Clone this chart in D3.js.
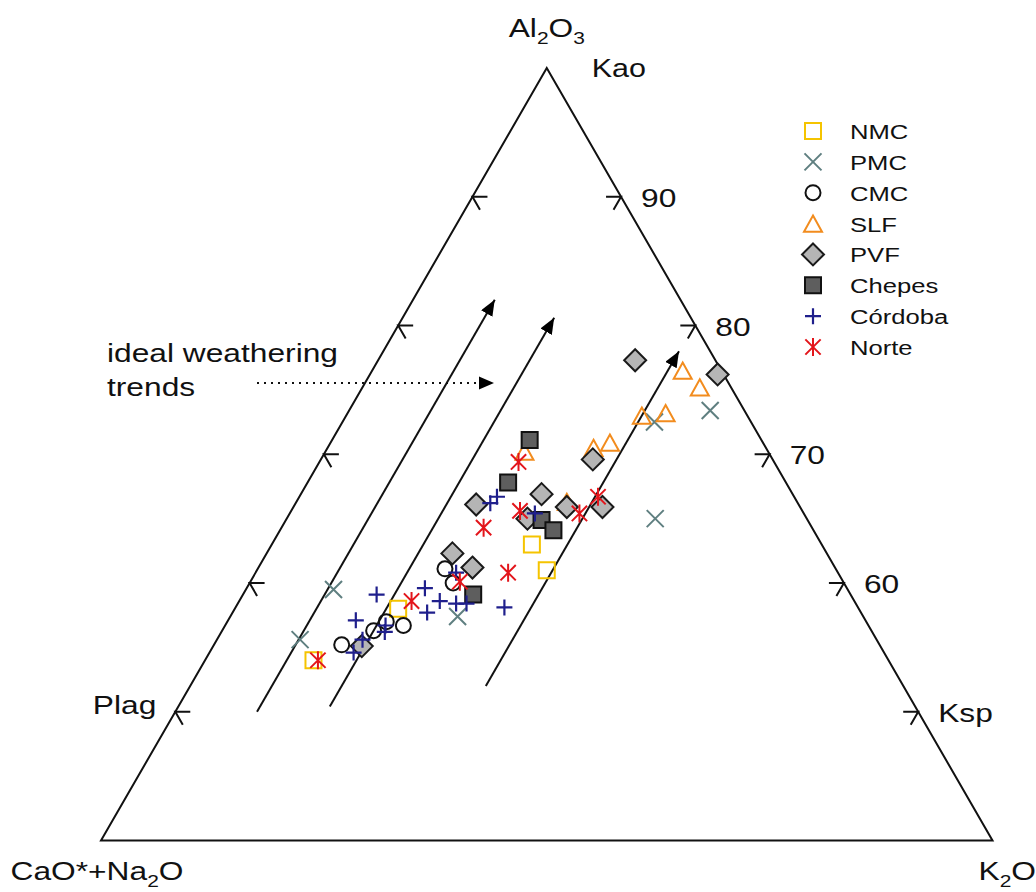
<!DOCTYPE html>
<html>
<head>
<meta charset="utf-8">
<script src="https://cdn.jsdelivr.net/npm/d3@7"></script>
<style>
  html, body { margin: 0; padding: 0; background: #ffffff; }
  svg { display: block; font-family: "Liberation Sans", Arial, sans-serif; }
</style>
</head>
<body>
<svg id="chart" width="1036" height="892"></svg>
<script>
// Molar proportions in %, each row: [Al2O3, CaO*+Na2O, K2O]
const nmc = [[54.0, 38.7, 7.3], [58.0, 31.0, 11.0], [63.0, 19.5, 17.5], [61.0, 19.5, 19.5]];
const pmc = [[55.6, 38.8, 5.6], [59.5, 34.6, 5.9], [57.4, 27.3, 15.3], [65.0, 10.2, 24.8],
             [72.5, 6.5, 21.0], [73.4, 2.3, 24.3]];
const cmc = [[55.2, 36.2, 8.6], [56.3, 33.5, 10.2], [57.0, 32.3, 10.7], [56.7, 31.3, 12.0],
             [61.1, 26.3, 12.6], [60.0, 26.3, 13.7]];
const slf = [[76.5, 2.6, 20.9], [75.2, 2.1, 22.7], [73.0, 7.1, 19.9], [73.2, 5.4, 21.4],
             [70.5, 11.6, 17.9], [70.9, 10.3, 18.8], [66.3, 15.5, 18.2], [70.2, 16.4, 13.4]];
const pvf = [[77.3, 5.4, 17.3], [76.2, 0.4, 23.4], [69.6, 12.1, 18.3], [66.9, 16.9, 16.2],
             [66.1, 21.7, 12.2], [65.9, 15.7, 18.4], [65.9, 13.3, 20.8], [65.0, 18.8, 16.2],
             [62.3, 25.2, 12.5], [61.2, 24.4, 14.4], [55.1, 34.9, 10.0]];
const chepes = [[71.1, 15.6, 13.3], [67.8, 18.7, 13.5], [64.9, 17.9, 17.2], [64.1, 17.5, 18.4],
                [59.1, 25.4, 15.5]];
const cordoba = [[59.1, 31.9, 9.0], [59.6, 28.4, 12.0], [58.6, 27.9, 13.5], [57.7, 29.2, 13.1],
                 [57.1, 34.3, 8.6], [56.7, 32.5, 10.8], [56.2, 32.8, 11.0], [55.6, 34.6, 9.8],
                 [54.6, 35.7, 9.7], [58.4, 26.9, 14.7], [58.4, 26.2, 15.4], [60.8, 25.7, 13.5],
                 [58.1, 23.8, 18.1], [66.2, 20.7, 13.1], [66.7, 20.0, 13.3], [65.4, 18.1, 16.5]];
const norte = [[54.0, 38.4, 7.6], [58.6, 29.8, 11.6], [60.1, 25.8, 14.1], [64.3, 22.1, 13.6],
               [60.8, 22.2, 17.0], [69.4, 17.2, 13.4], [65.6, 19.0, 15.4], [65.4, 15.1, 19.5],
               [66.7, 13.2, 20.1]];

const seriesNames = ["NMC", "PMC", "CMC", "SLF", "PVF", "Chepes", "Córdoba", "Norte"];
const seriesData = [nmc, pmc, cmc, slf, pvf, chepes, cordoba, norte];

// CIA scale along both sides; the base of the triangle is Al2O3 = 40 %
const ciaTicks = [50, 60, 70, 80, 90];
const ciaTickLabels = ["Ksp", "60", "70", "80", "90"];

// Ideal weathering trends (constant K2O), start and end compositions
const trendStarts = [[50.0, 44.5, 5.5], [50.4, 39.4, 10.2], [52.0, 28.1, 19.9]];
const trendEnds   = [[82.0, 12.5, 5.5], [80.6, 9.2, 10.2], [78.0, 2.1, 19.9]];

// ---------------------------------------------------------------
const svg = d3.select("#chart");
const FONT_X = 1.22;            // horizontal text stretch
const aScale = d3.scaleLinear().domain([40, 100]).range([840.5, 68]);
const dScale = d3.scaleLinear().domain([-60, 60]).range([101, 992.5]); // K2O − (CaO*+Na2O)

function project(row) {
  const s = row[0] + row[1] + row[2];
  const a = row[0] * 100 / s, cn = row[1] * 100 / s, k = row[2] * 100 / s;
  return [dScale(k - cn), aScale(a)];
}

const apexPt = project([100, 0, 0]);
const leftPt = project([40, 60, 0]);
const rightPt = project([40, 0, 60]);

// text helper: parts = [{t, sub}]
function label(x, y, parts, size, anchor) {
  const g = svg.append("g").attr("transform", `translate(${x},${y}) scale(${FONT_X},1)`);
  const t = g.append("text").attr("font-size", size).attr("fill", "#111")
    .attr("text-anchor", anchor || "start");
  let shifted = false;
  parts.forEach(p => {
    const ts = t.append("tspan").text(p.t);
    if (p.sub) {
      ts.attr("font-size", size * 0.66).attr("dy", size * 0.28);
      shifted = true;
    } else if (shifted) {
      ts.attr("dy", -size * 0.28);
      shifted = false;
    }
  });
  return g;
}

// arrowhead markers
const defs = svg.append("defs");
defs.append("marker").attr("id", "head")
  .attr("markerUnits", "userSpaceOnUse")
  .attr("markerWidth", 18).attr("markerHeight", 14)
  .attr("refX", 16).attr("refY", 6.5).attr("orient", "auto")
  .append("path").attr("d", "M0,0L16,6.5L0,13Z").attr("fill", "#000");

// triangle frame
svg.append("path")
  .attr("d", d3.line()([apexPt, leftPt, rightPt]) + "Z")
  .attr("fill", "none").attr("stroke", "#111").attr("stroke-width", 2)
  .attr("stroke-linejoin", "miter");

// tick marks
const TL = 15;
const s60 = Math.sin(Math.PI / 3), c60 = Math.cos(Math.PI / 3);
ciaTicks.forEach((v, i) => {
  const pl = project([v, 100 - v, 0]);
  const pr = project([v, 0, 100 - v]);
  svg.append("path")
    .attr("d", `M${pl[0] + TL},${pl[1]}L${pl[0]},${pl[1]}L${pl[0] + TL * c60},${pl[1] + TL * s60}`)
    .attr("fill", "none").attr("stroke", "#111").attr("stroke-width", 2);
  svg.append("path")
    .attr("d", `M${pr[0] - TL},${pr[1]}L${pr[0]},${pr[1]}L${pr[0] - TL * c60},${pr[1] + TL * s60}`)
    .attr("fill", "none").attr("stroke", "#111").attr("stroke-width", 2);
  label(pr[0] + 20, pr[1] + 10, [{ t: ciaTickLabels[i] }], 26, "start");
  if (v === 50) label(pl[0] - 19, pl[1] + 2, [{ t: "Plag" }], 26, "end");
});

// vertex labels
label(apexPt[0], apexPt[1] - 31, [{ t: "Al" }, { t: "2", sub: true }, { t: "O" }, { t: "3", sub: true }], 26, "middle");
label(apexPt[0] + 45, apexPt[1] + 9, [{ t: "Kao" }], 25, "start");
label(leftPt[0] - 4, leftPt[1] + 39, [{ t: "CaO*+Na" }, { t: "2", sub: true }, { t: "O" }], 26, "middle");
label(rightPt[0] - 14, rightPt[1] + 39, [{ t: "K" }, { t: "2", sub: true }, { t: "O" }], 26, "start");

// ideal weathering trends
trendStarts.forEach((s, i) => {
  svg.append("path")
    .attr("d", d3.line()([project(s), project(trendEnds[i])]))
    .attr("fill", "none").attr("stroke", "#111").attr("stroke-width", 2)
    .attr("marker-end", "url(#head)");
});

// annotation
label(107, 362, [{ t: "ideal weathering" }], 26, "start");
label(107, 396, [{ t: "trends" }], 26, "start");
svg.append("line")
  .attr("x1", 257).attr("y1", 383).attr("x2", 481).attr("y2", 383)
  .attr("stroke", "#111").attr("stroke-width", 2).attr("stroke-dasharray", "2,5");
svg.append("path").attr("d", "M479,376.5L494,383L479,389.5Z").attr("fill", "#000");

// marker shapes
const shapes = {
  square: s => `M${-s / 2},${-s / 2}h${s}v${s}h${-s}Z`,
  cross: h => `M${-h},${-h}L${h},${h}M${-h},${h}L${h},${-h}`,
  circle: r => `M${r},0A${r},${r} 0 1 1 ${-r},0A${r},${r} 0 1 1 ${r},0Z`,
  triangle: w => `M0,${-w * 0.45}L${w / 2},${w * 0.45}L${-w / 2},${w * 0.45}Z`,
  diamond: r => `M0,${-r}L${r},0L0,${r}L${-r},0Z`,
  plus: h => `M${-h},0H${h}M0,${-h}V${h}`,
  star: h => `M0,${-h}V${h}M${-h * 0.85},${-h * 0.85}L${h * 0.85},${h * 0.85}M${-h * 0.85},${h * 0.85}L${h * 0.85},${-h * 0.85}`
};
const styles = [
  { shape: "square", size: 16, stroke: "#f5c400", fill: "none", sw: 2 },
  { shape: "cross", size: 8.5, stroke: "#5f7f80", fill: "none", sw: 2 },
  { shape: "circle", size: 7.5, stroke: "#111", fill: "none", sw: 2 },
  { shape: "triangle", size: 18, stroke: "#f28c1e", fill: "none", sw: 2 },
  { shape: "diamond", size: 11, stroke: "#1a1a1a", fill: "#b5b5b5", sw: 2 },
  { shape: "square", size: 16, stroke: "#111", fill: "#5e5e5e", sw: 2 },
  { shape: "plus", size: 8, stroke: "#1f1f8c", fill: "none", sw: 2.2 },
  { shape: "star", size: 9, stroke: "#e3151b", fill: "none", sw: 2 }
];

const plot = svg.append("g");
seriesData.forEach((rows, i) => {
  const st = styles[i];
  plot.append("g").selectAll("path").data(rows).join("path")
    .attr("transform", d => `translate(${project(d)})`)
    .attr("d", shapes[st.shape](st.size))
    .attr("fill", st.fill).attr("stroke", st.stroke).attr("stroke-width", st.sw);
});

// legend
const legendY = d3.scaleLinear().domain([0, 7]).range([131, 347]);
seriesNames.forEach((name, i) => {
  const st = styles[i];
  const y = legendY(i);
  svg.append("path")
    .attr("transform", `translate(813,${y})`)
    .attr("d", shapes[st.shape](st.size))
    .attr("fill", st.fill).attr("stroke", st.stroke).attr("stroke-width", st.sw);
  label(850, y + 8, [{ t: name }], 21, "start");
});
</script>
</body>
</html>
